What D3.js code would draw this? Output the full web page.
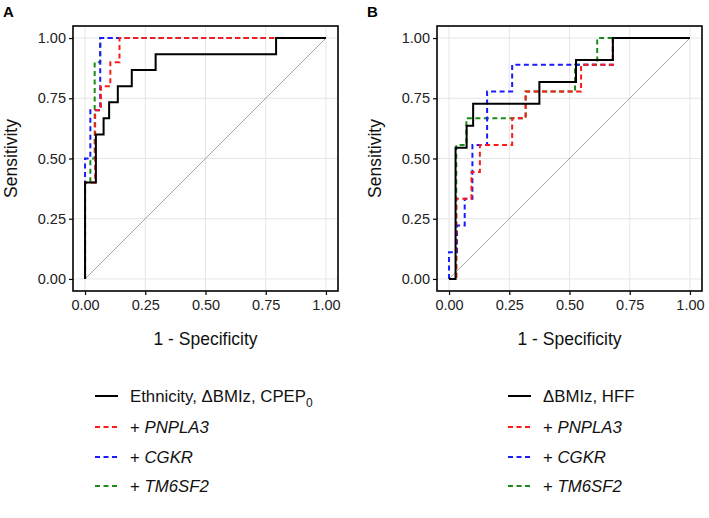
<!DOCTYPE html>
<html><head><meta charset="utf-8">
<script src="https://cdn.jsdelivr.net/npm/d3@7"></script>
<style>
body{margin:0;background:#fff;}
svg{display:block;font-family:"Liberation Sans",Arial,sans-serif;}
</style></head>
<body>
<svg id="chart" width="709" height="518"></svg>
<script>
// ---- Data ----
const tickValues = [0, 0.25, 0.5, 0.75, 1];
const tickLabels = ["0.00", "0.25", "0.50", "0.75", "1.00"];
const xTitle = "1 - Specificity";
const yTitle = "Sensitivity";
const panelLabels = ["A", "B"];

// Panel A
const aBaseFpr = [0, 0, 0.045, 0.077, 0.1, 0.136, 0.194, 0.293, 0.793, 1];
const aBaseTpr = [0, 0.4, 0.6, 0.667, 0.733, 0.8, 0.867, 0.933, 1, 1];
const aPnplaFpr = [0, 0, 0.042, 0.066, 0.105, 0.143, 1];
const aPnplaTpr = [0, 0.4, 0.7, 0.8, 0.9, 1, 1];
const aCgkrFpr = [0, 0, 0.022, 0.063, 1];
const aCgkrTpr = [0, 0.5, 0.7, 1, 1];
const aTm6Fpr = [0, 0, 0.022, 0.04, 0.063, 1];
const aTm6Tpr = [0, 0.4, 0.5, 0.9, 1, 1];

// Panel B
const bBaseFpr = [0, 0.027, 0.073, 0.1, 0.375, 0.527, 0.68, 1];
const bBaseTpr = [0, 0.545, 0.636, 0.727, 0.818, 0.909, 1, 1];
const bPnplaFpr = [0, 0.03, 0.093, 0.128, 0.262, 0.318, 0.548, 0.68, 1];
const bPnplaTpr = [0, 0.333, 0.444, 0.556, 0.667, 0.778, 0.889, 1, 1];
const bCgkrFpr = [0, 0, 0.033, 0.065, 0.097, 0.158, 0.262, 0.68, 1];
const bCgkrTpr = [0, 0.111, 0.222, 0.333, 0.556, 0.778, 0.889, 1, 1];
const bTm6Fpr = [0, 0.03, 0.072, 0.318, 0.523, 0.615, 1];
const bTm6Tpr = [0, 0.556, 0.667, 0.778, 0.889, 1, 1];

const legendA = ["Ethnicity, \u0394BMIz, CPEP", "+ ", "+ ", "+ "];
const legendB = ["\u0394BMIz, HFF", "+ ", "+ ", "+ "];
const geneNames = ["PNPLA3", "CGKR", "TM6SF2"];
const seriesColors = ["#000000", "#ff1a1a", "#1a1aff", "#1a8a1a"];

// ---- Drawing ----
const svg = d3.select("#chart");

function zip(f, t){ return f.map((v,i)=>[v, t[i]]); }

const panels = [
  {left: 73, right: 338, label: panelLabels[0], labelX: 3,
   series: [zip(aBaseFpr,aBaseTpr), zip(aPnplaFpr,aPnplaTpr), zip(aCgkrFpr,aCgkrTpr), zip(aTm6Fpr,aTm6Tpr)],
   legend: legendA, legX: 95},
  {left: 437, right: 702, label: panelLabels[1], labelX: 367,
   series: [zip(bBaseFpr,bBaseTpr), zip(bPnplaFpr,bPnplaTpr), zip(bCgkrFpr,bCgkrTpr), zip(bTm6Fpr,bTm6Tpr)],
   legend: legendB, legX: 508}
];
const plotTop = 26, plotBottom = 291;

panels.forEach((p, pi) => {
  const w = p.right - p.left, h = plotBottom - plotTop;
  const x = d3.scaleLinear().domain([-0.05, 1.05]).range([p.left, p.right]);
  const y = d3.scaleLinear().domain([-0.05, 1.05]).range([plotBottom, plotTop]);
  const g = svg.append("g");

  // grid
  g.append("g").selectAll("line").data(tickValues).join("line")
    .attr("x1", d=>x(d)).attr("x2", d=>x(d)).attr("y1", plotTop).attr("y2", plotBottom)
    .attr("stroke", "#e6e6e6").attr("stroke-width", 1);
  g.append("g").selectAll("line").data(tickValues).join("line")
    .attr("y1", d=>y(d)).attr("y2", d=>y(d)).attr("x1", p.left).attr("x2", p.right)
    .attr("stroke", "#e6e6e6").attr("stroke-width", 1);

  // diagonal
  g.append("line").attr("x1", x(0)).attr("y1", y(0)).attr("x2", x(1)).attr("y2", y(1))
    .attr("stroke", "#a8a8a8").attr("stroke-width", 1);

  const line = d3.line().x(d=>x(d[0])).y(d=>y(d[1])).curve(d3.curveStepAfter);
  // draw order: green, blue, red, black
  [3, 2, 1, 0].forEach(si => {
    g.append("path").datum(p.series[si]).attr("d", line)
      .attr("fill", "none").attr("stroke", seriesColors[si])
      .attr("stroke-width", 2)
      .attr("stroke-dasharray", si === 0 ? null : "5,3.5");
  });

  // border
  g.append("rect").attr("x", p.left).attr("y", plotTop).attr("width", w).attr("height", h)
    .attr("fill", "none").attr("stroke", "#000").attr("stroke-width", 1.6);

  // axes
  const xAxis = d3.axisBottom(x).tickValues(tickValues).tickFormat((d,i)=>tickLabels[i]).tickSize(4).tickPadding(5);
  const yAxis = d3.axisLeft(y).tickValues(tickValues).tickFormat((d,i)=>tickLabels[i]).tickSize(4).tickPadding(3);
  const xa = g.append("g").attr("transform", `translate(0,${plotBottom})`).call(xAxis);
  const ya = g.append("g").attr("transform", `translate(${p.left},0)`).call(yAxis);
  [xa, ya].forEach(a => {
    a.select(".domain").remove();
    a.selectAll(".tick line").attr("stroke", "#000").attr("stroke-width", 1.2);
    a.selectAll(".tick text").attr("fill", "#222").style("font-size", "14.5px")
      .style("font-family", '"Liberation Sans",Arial,sans-serif');
  });

  // axis titles
  g.append("text").attr("x", (x(0)+x(1))/2).attr("y", 345).attr("text-anchor", "middle")
    .style("font-size", "17.5px").attr("fill", "#111").text(xTitle);
  g.append("text").attr("transform", `translate(${p.left - 56},${(plotTop+plotBottom)/2}) rotate(-90)`)
    .attr("text-anchor", "middle").style("font-size", "17.5px").attr("fill", "#111").text(yTitle);

  // panel label
  g.append("text").attr("x", p.labelX).attr("y", 17).style("font-size", "15px")
    .style("font-weight", "bold").text(p.label);

  // legend
  const rowY = [396, 427, 457, 486];
  p.legend.forEach((lab, i) => {
    g.append("line").attr("x1", p.legX).attr("x2", p.legX + 23).attr("y1", rowY[i]).attr("y2", rowY[i])
      .attr("stroke", seriesColors[i]).attr("stroke-width", 2)
      .attr("stroke-dasharray", i === 0 ? null : "5,3.5");
    const t = g.append("text").attr("x", p.legX + 35).attr("y", rowY[i] + 6)
      .style("font-size", "16.8px").attr("fill", "#111");
    t.append("tspan").style("font-style", "normal").text(lab);
    if (i > 0) {
      t.append("tspan").style("font-style", "italic").text(geneNames[i-1]);
    } else if (pi === 0) {
      t.append("tspan").attr("dy", 5).style("font-size", "12px").text("0");
    }
  });
});
</script>
</body></html>
